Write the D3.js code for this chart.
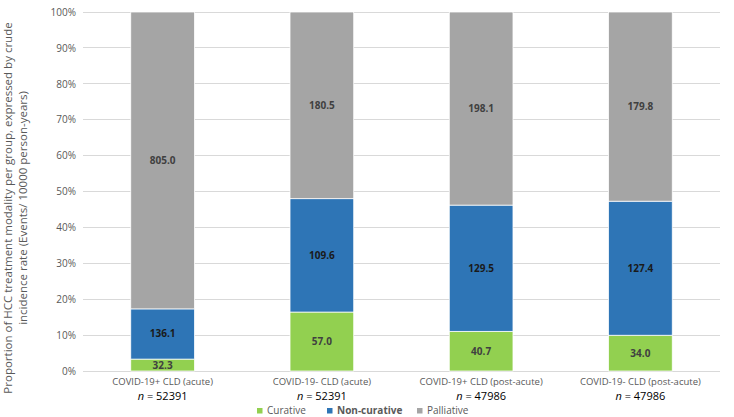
<!DOCTYPE html>
<html><head><meta charset="utf-8">
<script src="https://cdn.jsdelivr.net/npm/d3@7"></script>
<style>body{margin:0;background:#fff}svg{display:block}text{font-family:"Open Sans",sans-serif}</style>
</head><body><svg id="c" width="734" height="417"></svg>
<script>
const categories = ["COVID-19+ CLD (acute)", "COVID-19- CLD (acute)", "COVID-19+ CLD (post-acute)", "COVID-19- CLD (post-acute)"];
const sampleSizes = ["52391", "52391", "47986", "47986"];
const curative = [32.3, 57.0, 40.7, 34.0];
const nonCurative = [136.1, 109.6, 129.5, 127.4];
const palliative = [805.0, 180.5, 198.1, 179.8];
const seriesNames = ["Curative", "Non-curative", "Palliative"];
const seriesColors = ["#92D050", "#2E75B6", "#A5A5A5"];
const yTicks = [0, 0.1, 0.2, 0.3, 0.4, 0.5, 0.6, 0.7, 0.8, 0.9, 1.0];

const svg = d3.select("#c");
const L = 83, R = 720, T = 12, B = 371;
const x = d3.scaleBand().domain(categories).range([L, R]);
const y = d3.scaleLinear().domain([0, 1]).range([B, T]);

// grid
svg.append("g").selectAll("line").data(yTicks).join("line")
  .attr("x1", L).attr("x2", R).attr("y1", d => y(d)).attr("y2", d => y(d))
  .attr("stroke", "#D9D9D9").attr("stroke-width", 1).attr("shape-rendering", "crispEdges");

// y axis labels
const yAxis = d3.axisLeft(y).tickValues(yTicks).tickFormat(d3.format(".0%")).tickSize(0).tickPadding(7);
const ya = svg.append("g").attr("transform", `translate(${L},0)`).call(yAxis);
ya.select(".domain").remove();
ya.selectAll("text").attr("font-size", 10).attr("fill", "#595959").attr("font-family", "'Open Sans',sans-serif");

// stacked normalized data
const rows = categories.map((c, i) => ({cat: c, Curative: curative[i], "Non-curative": nonCurative[i], Palliative: palliative[i]}));
const stack = d3.stack().keys(seriesNames).offset(d3.stackOffsetExpand);
const layers = stack(rows);
const bw = x.bandwidth() * 0.4;

layers.forEach((layer, li) => {
  const g = svg.append("g");
  g.selectAll("rect").data(layer).join("rect")
    .attr("x", d => x(d.data.cat) + (x.bandwidth() - bw) / 2)
    .attr("width", bw)
    .attr("y", d => y(d[1]))
    .attr("height", d => y(d[0]) - y(d[1]))
    .attr("fill", seriesColors[li])
    .attr("stroke", "#fff").attr("stroke-width", 0.75);
  g.selectAll("text").data(layer).join("text")
    .attr("x", d => x(d.data.cat) + x.bandwidth() / 2)
    .attr("y", d => (y(d[0]) + y(d[1])) / 2)
    .attr("dy", "0.35em")
    .attr("text-anchor", "middle")
    .attr("font-size", 10).attr("font-weight", "bold")
    .attr("fill", li === 1 ? "#1a1a1a" : "#404040")
    .text(d => d.data[seriesNames[li]].toFixed(1));
});

// x labels
const xl = svg.append("g");
categories.forEach((c, i) => {
  const cx = x(c) + x.bandwidth() / 2;
  xl.append("text").attr("x", cx).attr("y", 385).attr("text-anchor", "middle")
    .attr("font-size", 9.5).attr("fill", "#595959").text(c);
  const t = xl.append("text").attr("x", cx).attr("y", 399.5).attr("text-anchor", "middle")
    .attr("font-size", 11).attr("fill", "#000");
  t.append("tspan").attr("font-style", "italic").text("n");
  t.append("tspan").text(" = " + sampleSizes[i]);
});

// legend
const legX = [257, 327, 417];
const lg = svg.append("g");
seriesNames.forEach((s, i) => {
  lg.append("rect").attr("x", legX[i]).attr("y", 408).attr("width", 5.5).attr("height", 5.5).attr("fill", seriesColors[i]);
  lg.append("text").attr("x", legX[i] + 10).attr("y", 414).attr("font-size", 10)
    .attr("fill", "#595959").attr("font-weight", i === 1 ? "bold" : "normal").text(s);
});

// y title
const yt = svg.append("text").attr("transform", "translate(12,208) rotate(-90)")
  .attr("text-anchor", "middle").attr("font-size", 11.5).attr("fill", "#595959");
yt.append("tspan").attr("x", 0).attr("dy", 0).text("Proportion of HCC treatment modality per group, expressed by crude");
yt.append("tspan").attr("x", 0).attr("dy", 15).text("incidence rate (Events/ 10000 person-years)");
</script></body></html>
